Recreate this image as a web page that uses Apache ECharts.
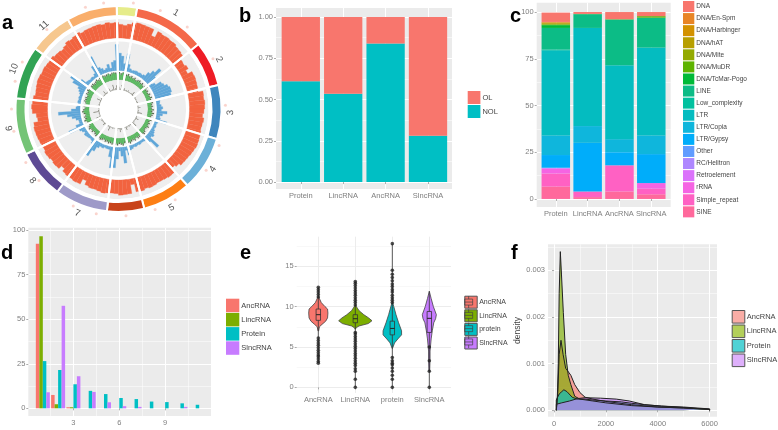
<!DOCTYPE html>
<html>
<head>
<meta charset="utf-8">
<style>html,body{margin:0;padding:0;background:#fff}#main{width:778px;height:430px}</style>
<script src="https://cdn.jsdelivr.net/npm/echarts@6/dist/echarts.min.js"></script>
</head>
<body>
<div id="main"></div>
<script>
// a: circular genome plot, degrees per sector clockwise from the yellow one
var sectorNames = ['', '1', '2', '3', '4', '5', '', '7', '8', '9', '10', '11', ''];
var sectorSizes = [11.5, 40.5, 25.5, 30.5, 31, 27.5, 21, 30, 27.5, 32, 30, 24.5, 28.5];
var sectorColors = ['#e6ec8a', '#f4694a', '#ee1c25', '#3f86bd', '#6cb0d8', '#fd7e14', '#c8431a', '#9e9ac8', '#5e4a94', '#74c476', '#31a354', '#f6c78e', '#f9ae6b'];
// ring values, one per 3 degrees clockwise from the top
var redRing = [
    .72, .68, .76, .86, .9, .88, .86, .85, .5, .84, .8, .82,
    .78, .8, .72, .7, .66, .45, .42, .5, .35, .6, .62, .6,
    .58, .55, .8, .78, .82, .8, .76, .7, .78, .74, .72, .75,
    .78, .8, .82, .78, .75, .72, .7, .68, .55, .45, .7, .72,
    .68, .66, .65, .7, .72, .68, .74, .72, .3, .76, .78, .8,
    .72, .7, .72, .75, .7, .66, .68, .62, .4, .7, .72, .68,
    .7, .66, .5, .7, .72, .68, .74, .76, .7, .72, .75, .78,
    .8, .82, .78, .55, .6, .8, .84, .8, .78, .7, .72, .75,
    .78, .76, .72, .74, .7, .68, .7, .62, .6, .55, .62, .72,
    .68, .74, .8, .72, .76, .78, .8, .82, .78, .84, .8, .82
];
var blueRing = [
    .6, .5, .25, .6, .25, .12, .08, .1, .12, .1, .12, .1,
    .14, .3, .45, .65, .35, .12, .2, .4, .45, .55, .6, .6,
    .55, .15, .12, .1, .15, .2, .15, .35, .2, .12, .15, .4,
    .1, .08, .1, .08, .12, .15, .2, .15, .55, .25, .1, .08,
    .08, .1, .08, .1, .08, .12, .15, .3, .12, .55, .3, .12,
    .4, .7, .72, .35, .1, .1, .08, .12, .1, .18, .35, .6,
    .18, .1, .08, .1, .12, .14, .08, .14, .2, .55, .25, .1,
    .1, .18, .3, .45, .75, .3, .14, .1, .08, .1, .08, .1,
    .08, .12, .18, .25, .5, .65, .3, .12, .1, .08, .1, .08,
    .14, .4, .7, .25, .18, .1, .14, .25, .1, .3, .35, .9
];
var greenRing = [
    .8, .6, .9, .7, .55, .7, .5, .6, .45, .55, .4, .5,
    .6, .45, .55, .4, .5, .6, .4, .45, .35, .5, .4, .55,
    .4, .35, .5, .4, .45, .35, .5, .4, .55, .45, .35, .4,
    .5, .35, .45, .4, .55, .4, .35, .5, .6, .45, .4, .5,
    .55, .4, .6, .45, .5, .7, .55, .6, .45, .75, .6, .5,
    .7, .6, .55, .65, .5, .6, .45, .55, .4, .5, .6, .45,
    .4, .55, .45, .35, .5, .4, .6, .45, .35, .5, .4, .65,
    .45, .55, .4, .5, .7, .55, .4, .5, .45, .4, .55, .45,
    .5, .4, .6, .5, .7, .55, .45, .6, .65, .5, .6, .75,
    .55, .7, .6, .8, .65, .7, .85, .6, .75, .9, .7, .85
];
// dark spikes that stick out of the green band
var greenTips = [
    1, .85, 1, .95, .8, .95, .7, .85, .65, .8, .6, .75,
    .85, .65, .8, .6, .75, .9, .6, .7, .55, .75, .6, .8,
    .6, .55, .75, .6, .7, .55, .8, .6, .85, .7, .55, .6,
    .75, .55, .7, .6, .8, .6, .55, .75, .9, .7, .6, .75,
    .8, .6, .85, .7, .75, .95, .8, .85, .7, 1, .85, .75,
    .95, .85, .8, .9, .75, .85, .7, .8, .6, .75, .85, .7,
    .6, .8, .7, .55, .75, .6, .85, .7, .55, .75, .6, .9,
    .7, .8, .6, .75, .95, .8, .6, .75, .7, .6, .8, .7,
    .75, .6, .85, .75, .95, .8, .7, .85, .9, .75, .85, 1,
    .8, .95, .85, 1, .9, .95, 1, .85, 1, 1, .95, 1
];
var blackRing = [
    .3, .15, .5, .2, .1, .25, .1, .15, .1, .2, .1, .12,
    .1, .15, .4, .12, .1, .08, .15, .1, .12, .08, .1, .15,
    .1, .08, .12, .1, .3, .1, .08, .12, .1, .45, .15, .1,
    .12, .08, .1, .35, .12, .08, .1, .15, .5, .1, .08, .12,
    .1, .15, .08, .12, .35, .1, .15, .08, .1, .2, .4, .12,
    .1, .3, .12, .08, .1, .15, .08, .1, .45, .12, .1, .08,
    .12, .1, .3, .08, .12, .1, .15, .08, .35, .12, .5, .1,
    .08, .12, .1, .6, .15, .08, .1, .12, .3, .1, .15, .08,
    .12, .1, .45, .08, .15, .1, .2, .08, .12, .1, .4, .15,
    .1, .2, .08, .35, .12, .1, .15, .55, .1, .2, .45, .15
];
var tickAngles = [8, 23, 40, 62, 88, 110, 125, 148, 160, 176, 192, 205, 228, 240, 258, 270, 285, 296, 318, 342, 352];

// b
var sampleNames = ['Protein', 'LincRNA', 'AncRNA', 'SlncRNA'];
var nolShare = [0.61, 0.535, 0.84, 0.28];
var olShare = [0.39, 0.465, 0.16, 0.72];

// c: share of each repeat class, in sampleNames order
var repeatNames = ['DNA', 'DNA/En-Spm', 'DNA/Harbinger', 'DNA/hAT', 'DNA/Mite', 'DNA/MuDR', 'DNA/TcMar-Pogo', 'LINE', 'Low_complexity', 'LTR', 'LTR/Copia', 'LTR/Gypsy', 'Other', 'RC/Helitron', 'Retroelement', 'rRNA', 'Simple_repeat', 'SINE'];
var repeatColors = ['#F8766D', '#E88526', '#D39200', '#B79F00', '#93AA00', '#5EB300', '#00BA38', '#0cbc86', '#00C19F', '#04bcc0', '#0fb6dc', '#00ADFA', '#619CFF', '#AE87FF', '#DB72FB', '#F564E3', '#FF61C3', '#FF699C'];
var repeatDNA = [5, 1, 3.8, 2.2];
var repeatEnSpm = [0.2, 0, 0, 0];
var repeatHarbinger = [0.3, 0, 0, 0];
var repeatHat = [0.5, 0, 0, 0];
var repeatMite = [0.3, 0, 0.1, 0];
var repeatMuDR = [0.4, 0, 0.1, 0.8];
var repeatTcMar = [1.5, 0.2, 0, 0];
var repeatLine = [11.5, 7.3, 24.5, 16];
var repeatLow = [0.5, 0, 0, 0];
var repeatLtr = [45.5, 52.5, 39.5, 47];
var repeatCopia = [10.5, 9, 7, 10];
var repeatGypsy = [6.8, 26, 7, 15.5];
var repeatOther = [0, 0, 0, 0];
var repeatHelitron = [0.2, 0, 0, 0];
var repeatRetro = [0.4, 0, 0, 0];
var repeatRrna = [2.5, 0, 0, 3];
var repeatSimple = [7, 3, 14, 3];
var repeatSine = [6.6, 1, 4, 2.5];
var repeatValues = [repeatDNA, repeatEnSpm, repeatHarbinger, repeatHat, repeatMite, repeatMuDR, repeatTcMar, repeatLine, repeatLow, repeatLtr, repeatCopia, repeatGypsy, repeatOther, repeatHelitron, repeatRetro, repeatRrna, repeatSimple, repeatSine];

// d: exon count, x = 1..11
var classNames = ['AncRNA', 'LincRNA', 'Protein', 'SlncRNA'];
var classColors = ['#f8766d', '#7cae00', '#00bfc4', '#c77cff'];
var exonAnc = [92.3, 7.5, 0.6, 0, 0, 0, 0, 0, 0, 0, 0];
var exonLinc = [96.5, 2.3, 0.6, 0, 0, 0, 0, 0, 0, 0, 0];
var exonProtein = [26.5, 21.5, 13.5, 9.8, 8, 5.8, 5.2, 3.8, 3.5, 2.8, 2];
var exonSlnc = [9, 57.5, 18, 9.2, 3.4, 1.2, 0.8, 0, 0, 0.8, 0];

// e: violin outlines as [value, half width]
var violinNames = ['AncRNA', 'LincRNA', 'protein', 'SlncRNA'];
var violinAnc = [[7.0, .01], [7.5, .03], [7.8, .1], [8.2, .2], [8.6, .25], [9.2, .26], [9.7, .25], [10, .18], [10.5, .08], [11, .03], [11.3, 0]];
var violinLinc = [[7.2, 0], [7.4, .03], [7.6, .1], [7.9, .35], [8.25, .45], [8.6, .36], [9, .23], [9.5, .1], [10.2, 0]];
var violinProtein = [[4.8, 0], [5, .02], [5.5, .06], [6, .15], [6.5, .25], [7, .25], [8, .17], [9, .1], [10, .04], [10.5, .01]];
var violinSlnc = [[2, .01], [3.5, .02], [4.5, .02], [5, .03], [6, .05], [7, .08], [8, .12], [8.5, .17], [9, .19], [10, .11], [11, .05], [11.9, 0]];
var violinShapes = [violinAnc, violinLinc, violinProtein, violinSlnc];
var boxQ1 = [8.3, 8, 6.5, 6.8];
var boxMedian = [9, 8.5, 7.3, 8.55];
var boxQ3 = [9.7, 9, 8.2, 9.4];
var whiskerLow = [3, 0, 0, 0];
var whiskerHigh = [12.4, 13.1, 17.8, 11.9];
var outliersAnc = [3, 3.2, 3.5, 3.8, 4, 4.3, 4.6, 4.9, 5.2, 5.5, 5.8, 6.1, 11.2, 11.5, 11.8, 12.1, 12.4];
var outliersLinc = [0, 1, 2, 2.3, 2.7, 3, 3.3, 3.6, 3.9, 4.2, 4.5, 4.8, 5.1, 5.4, 5.7, 6, 6.3, 6.6, 6.8, 10.2, 10.5, 10.8, 11.1, 11.4, 11.7, 12, 12.3, 12.6, 12.9, 13.1];
var outliersProtein = [0, 1, 1.5, 2, 2.4, 2.8, 3, 3.3, 3.7, 10.5, 10.8, 11.1, 11.4, 11.8, 12.1, 12.5, 12.8, 13.2, 13.6, 14, 14.5, 17.8];
var outliersSlnc = [0, 2, 3.3, 5];
var outlierLists = [outliersAnc, outliersLinc, outliersProtein, outliersSlnc];

// f: density curves as [length, density]
var densityAnc = [[90, 0], [150, .0004], [200, .0012], [270, .0015], [350, .0012], [450, .0009], [560, .00082], [650, .00075], [800, .00055], [1000, .00038], [1200, .00028], [1500, .00024], [2000, .00019], [3000, .00012], [4000, .00007], [5000, .00005], [6000, .00002], [6000, 0]];
var densityLinc = [[90, 0], [130, .0003], [165, .001], [200, .0025], [244, .0034], [290, .0029], [360, .0021], [450, .0012], [550, .00075], [650, .00055], [800, .0003], [1000, .00024], [1500, .0002], [2000, .00016], [3000, .0001], [4000, .00007], [5000, .00005], [6000, .00002], [6000, 0]];
var densityProtein = [[90, 0], [90, .00022], [200, .00035], [300, .0004], [380, .00044], [500, .0004], [700, .00028], [900, .00024], [1200, .00024], [1500, .00022], [2000, .0002], [2600, .00018], [3000, .00015], [3500, .00012], [4150, .00009], [5000, .00006], [6000, .00002], [6000, 0]];
var densitySlnc = [[90, 0], [90, .00013], [300, .00016], [600, .0002], [900, .00025], [1200, .00027], [1800, .00026], [2400, .00024], [2900, .0002], [3500, .00012], [4150, .00009], [5000, .00007], [6000, .00003], [6000, 0]];
var densityCurves = [densityAnc, densityLinc, densityProtein, densitySlnc];

var FONT = '"Liberation Sans", Arial, sans-serif';
var AXIS_TEXT = '#7f7f7f';
var center = [118.5, 109];

var xAxes = [];
var yAxes = [];

// two axes per grid: the first carries labels and major lines, the second the thin minor lines
function addAxes(list, grid, range, ticks, minors, format, lineColor, minorColor) {
    list.push({
        type: 'value', gridIndex: grid, min: range[0], max: range[1],
        axisLine: {show: false},
        axisTick: {customValues: ticks, length: 2, lineStyle: {color: '#888', width: 0.7}},
        axisLabel: {customValues: ticks, formatter: format, color: AXIS_TEXT, fontSize: 7.5, fontFamily: FONT, margin: 3, showMinLabel: true, showMaxLabel: true},
        splitLine: {show: true, lineStyle: {color: lineColor, width: 1}}
    });
    list.push({
        type: 'value', gridIndex: grid, min: range[0], max: range[1],
        axisLine: {show: false},
        axisTick: {show: false, customValues: minors},
        axisLabel: {show: false},
        splitLine: {show: minors.length > 0, lineStyle: {color: minorColor, width: 0.5}}
    });
}

function catLabel(names) {
    return function (v) {
        return names[Math.round(v) - 1];
    };
}

var yRangeB = [-0.042, 1.0545];
var yRangeC = [-4.3, 105];

var grids = [
    {left: 276, top: 8, width: 176, height: 181, show: true, backgroundColor: '#ebebeb', borderWidth: 0},
    {left: 536.7, top: 2.7, width: 134, height: 204.3, show: true, backgroundColor: '#ebebeb', borderWidth: 0},
    {left: 28.3, top: 227.7, width: 182.7, height: 188.3, show: true, backgroundColor: '#ebebeb', borderWidth: 0},
    {left: 296.7, top: 236.7, width: 154.3, height: 156.3, show: true, backgroundColor: '#fff', borderWidth: 0},
    {left: 548, top: 244.3, width: 169, height: 172.4, show: true, backgroundColor: '#ebebeb', borderWidth: 0},
    // narrower grids for the stacked bars of b and c, ggplot pads discrete axes by less than a band
    {left: 279.6, top: 8, width: 169.6, height: 181},
    {left: 539.9, top: 2.7, width: 127.3, height: 204.3}
];

addAxes(xAxes, 0, [0.415, 4.566], [1, 2, 3, 4], [], catLabel(sampleNames), '#fff', '#fff');
addAxes(yAxes, 0, yRangeB, [0, 0.25, 0.5, 0.75, 1], [0.125, 0.375, 0.625, 0.875], function (v) { return v.toFixed(2); }, '#fff', '#fff');
addAxes(xAxes, 1, [0.4, 4.61], [1, 2, 3, 4], [], catLabel(sampleNames), '#fff', '#fff');
addAxes(yAxes, 1, yRangeC, [0, 25, 50, 75, 100], [12.5, 37.5, 62.5, 87.5], String, '#fff', '#fff');
addAxes(xAxes, 2, [0.05, 12], [3, 6, 9], [1.5, 4.5, 7.5, 10.5], String, '#fff', '#fff');
addAxes(yAxes, 2, [-4.3, 101.3], [0, 25, 50, 75, 100], [12.5, 37.5, 62.5, 87.5], String, '#fff', '#fff');
addAxes(xAxes, 3, [0.416, 4.586], [1, 2, 3, 4], [], catLabel(violinNames), '#ececec', '#f0f0f0');
addAxes(yAxes, 3, [-0.7, 18.66], [0, 5, 10, 15], [2.5, 7.5, 12.5, 17.5], String, '#ececec', '#f0f0f0');
addAxes(xAxes, 4, [-231, 6286], [0, 2000, 4000, 6000], [1000, 3000, 5000], String, '#fff', '#fff');
addAxes(yAxes, 4, [-0.000137, 0.003557], [0, 0.001, 0.002, 0.003], [0.0005, 0.0015, 0.0025, 0.0035], function (v) { return v.toFixed(3); }, '#fff', '#fff');
yAxes[8].name = 'density';
yAxes[8].nameLocation = 'middle';
yAxes[8].nameGap = 22;
yAxes[8].nameTextStyle = {color: '#444', fontSize: 8.5, fontFamily: FONT};

// hidden axes of the bar grids
xAxes.push({type: 'category', gridIndex: 5, data: sampleNames, show: false});
yAxes.push({type: 'value', gridIndex: 5, min: yRangeB[0], max: yRangeB[1], show: false, splitLine: {show: false}});
xAxes.push({type: 'category', gridIndex: 6, data: sampleNames, show: false});
yAxes.push({type: 'value', gridIndex: 6, min: yRangeC[0], max: yRangeC[1], show: false, splitLine: {show: false}});

var series = [];

// --- a ---
function sectorData(colorOf) {
    return sectorSizes.map(function (s, i) {
        return {value: s, name: sectorNames[i] || ' ', itemStyle: {color: colorOf(i)}};
    });
}
function addRingPie(inner, outer, colorOf, z, border) {
    series.push({
        type: 'pie', center: center, radius: [inner, outer], startAngle: 91, clockwise: true,
        silent: true, z: z, label: {show: false}, labelLine: {show: false},
        itemStyle: {borderColor: '#fff', borderWidth: border},
        data: sectorData(colorOf)
    });
}
function gray() { return '#eeeeee'; }
addRingPie(93, 103, function (i) { return sectorColors[i]; }, 3, 2);
addRingPie(71, 90, gray, 1, 0);
addRingPie(38.5, 67.5, gray, 1, 0);
addRingPie(19, 36.5, gray, 1, 0);
// white radial cuts on top of the inner rings
addRingPie(18, 91, function () { return 'transparent'; }, 3, 2);

// sector labels outside the coloured ring
series.push({
    type: 'pie', center: center, radius: [105, 113], startAngle: 91, silent: true, z: 4,
    itemStyle: {color: 'transparent'},
    labelLine: {show: false},
    label: {show: true, position: 'inside', rotate: 'tangential', formatter: '{b}', color: '#555', fontSize: 9.5, fontFamily: FONT},
    data: sectorSizes.map(function (s, i) { return {value: s, name: sectorNames[i] || ' '}; })
});

var ringPolar = [];
var ringAngle = [];
var ringRadius = [];
function addRing(inner, outer, values, color, gap) {
    var k = ringPolar.length;
    ringPolar.push({center: center, radius: [inner, outer]});
    ringAngle.push({type: 'category', polarIndex: k, startAngle: 90, data: values.map(function (v, i) { return i; }), show: false, boundaryGap: true});
    ringRadius.push({type: 'value', polarIndex: k, min: 0, max: 1, show: false});
    series.push({type: 'bar', coordinateSystem: 'polar', polarIndex: k, data: values, barCategoryGap: gap, silent: true, z: 2, itemStyle: {color: color, borderColor: color, borderWidth: gap ? 0 : 0.3}});
}
addRing(71, 90, redRing, '#f2633f', 0);
addRing(38.5, 67.5, blueRing, '#5fa6d8', 0);
addRing(29.5, 37, greenTips, '#5d6b52', '35%');
addRing(29.5, 37, greenRing, '#5cbb62', 0);
addRing(19, 29.5, blackRing, '#6e6e62', '45%');

// pale ticks around the outer ring
ringPolar.push({center: center, radius: [0, 112]});
ringAngle.push({type: 'value', polarIndex: 5, startAngle: 90, min: 0, max: 360, show: false});
ringRadius.push({type: 'value', polarIndex: 5, min: 0, max: 112, show: false});
series.push({
    type: 'scatter', coordinateSystem: 'polar', polarIndex: 5, symbolSize: 3, silent: true, z: 1,
    itemStyle: {color: '#f9c9c0'},
    data: tickAngles.map(function (a) { return [107, a]; })
});

// --- b ---
function stackedBars(name, values, color, axis, stack, width) {
    series.push({
        type: 'bar', name: name, xAxisIndex: axis, yAxisIndex: axis, stack: stack, barWidth: width,
        itemStyle: {color: color},
        data: values
    });
}
stackedBars('NOL', nolShare, '#00bfc4', 10, 'b', 38.3);
stackedBars('OL', olShare, '#f8766d', 10, 'b', 38.3);

// --- c --- bottom of the stack is the end of the legend
for (var r = repeatNames.length - 1; r >= 0; r--) {
    stackedBars(repeatNames[r], repeatValues[r], repeatColors[r], 11, 'c', 28.5);
}

// --- d ---
[exonAnc, exonLinc, exonProtein, exonSlnc].forEach(function (values, i) {
    series.push({
        type: 'bar', name: classNames[i], xAxisIndex: 4, yAxisIndex: 4, barWidth: 3.5, barGap: 0,
        itemStyle: {color: classColors[i]},
        data: values.map(function (v, k) { return [k + 1, v]; })
    });
});

// --- e ---
violinNames.forEach(function (name, i) {
    series.push({
        type: 'custom', name: name, xAxisIndex: 6, yAxisIndex: 6, clip: false, z: 3,
        data: [[i + 1, boxMedian[i]]],
        encode: {x: 0, y: 1},
        renderItem: function (params, api) {
            var x = api.value(0);
            var shape = violinShapes[i];
            var pts = [];
            shape.forEach(function (p) { pts.push(api.coord([x + p[1], p[0]])); });
            shape.slice().reverse().forEach(function (p) { pts.push(api.coord([x - p[1], p[0]])); });
            var lo = api.coord([x, whiskerLow[i]]);
            var hi = api.coord([x, whiskerHigh[i]]);
            var b1 = api.coord([x - 0.06, boxQ3[i]]);
            var b2 = api.coord([x + 0.06, boxQ1[i]]);
            var m1 = api.coord([x - 0.06, boxMedian[i]]);
            var m2 = api.coord([x + 0.06, boxMedian[i]]);
            var stroke = {stroke: '#333', lineWidth: 0.8, fill: null};
            return {
                type: 'group',
                children: [
                    {type: 'polygon', shape: {points: pts}, style: {fill: classColors[i], stroke: '#444', lineWidth: 0.8}},
                    {type: 'line', shape: {x1: lo[0], y1: lo[1], x2: hi[0], y2: hi[1]}, style: stroke},
                    {type: 'rect', shape: {x: b1[0], y: b1[1], width: b2[0] - b1[0], height: b2[1] - b1[1]}, style: {fill: classColors[i], stroke: '#333', lineWidth: 0.8}},
                    {type: 'line', shape: {x1: m1[0], y1: m1[1], x2: m2[0], y2: m2[1]}, style: {stroke: '#222', lineWidth: 1}}
                ]
            };
        }
    });
    series.push({
        type: 'scatter', name: name, xAxisIndex: 6, yAxisIndex: 6, symbolSize: 3.6, z: 4, silent: true,
        itemStyle: {color: '#222'},
        data: outlierLists[i].map(function (v) { return [i + 1, v]; })
    });
});

// --- f ---
densityCurves.forEach(function (curve, i) {
    series.push({
        type: 'line', name: classNames[i], xAxisIndex: 8, yAxisIndex: 8, showSymbol: false, symbol: 'none',
        lineStyle: {color: '#222', width: 1},
        areaStyle: {color: classColors[i], opacity: 0.65, origin: 0},
        data: curve
    });
});

function legendBox(left, top, w, h, gap, names, colors, font, border) {
    return {
        orient: 'vertical', left: left, top: top, padding: 0, itemWidth: w, itemHeight: h, itemGap: gap,
        icon: 'rect', selectedMode: false,
        textStyle: {color: '#444', fontSize: font, fontFamily: FONT, padding: [0, 0, 0, -3]},
        data: names.map(function (n, i) {
            return {name: n, itemStyle: {color: colors[i], borderColor: border || 'transparent', borderWidth: border ? 1 : 0, opacity: 1}};
        })
    };
}

// box-and-whisker glyphs laid over the swatches of legend e
function legendGlyphs(left, top, w, h, gap, names, font) {
    var box = legendBox(left, top, w, h, gap, names, names.map(function () { return 'transparent'; }), font, '#444');
    box.icon = 'path://M6 0V3M2 3H10V9H2ZM2 6H10M6 9V12';
    box.textStyle.color = 'transparent';
    box.data.forEach(function (d) { d.itemStyle.borderWidth = 0.7; });
    return box;
}

function letter(text, left, top) {
    return {text: text, left: left, top: top, padding: 0, textStyle: {fontSize: 20, fontWeight: 'bold', color: '#000', fontFamily: FONT}};
}

var chart = echarts.init(document.getElementById('main'));
var option = {
    animation: false,
    backgroundColor: '#fff',
    title: [letter('a', 2, 13), letter('b', 239, 6), letter('c', 510, 6), letter('d', 1, 243), letter('e', 240, 243), letter('f', 511, 243)],
    grid: grids,
    xAxis: xAxes,
    yAxis: yAxes,
    polar: ringPolar,
    angleAxis: ringAngle,
    radiusAxis: ringRadius,
    legend: [
        legendBox(467.7, 91, 12.7, 13, 1, ['OL', 'NOL'], ['#f8766d', '#00bfc4'], 7.5),
        legendBox(683, 1, 11.3, 11, 1.08, repeatNames, repeatColors, 6.5),
        legendBox(226, 298.7, 13.3, 13.5, 0.7, classNames, classColors, 7.5),
        legendBox(464.3, 295.7, 12.4, 12, 0.6, violinNames, classColors, 7, '#555'),
        legendGlyphs(464.3, 295.7, 12.4, 12, 0.6, violinNames, 7),
        legendBox(731.7, 310, 12.6, 12.6, 0.9, classNames, ['#f9ada6', '#b3cf5a', '#50d2d5', '#deb0fb'], 7.5, '#555')
    ],
    series: series
};
chart.setOption(option);
window.onresize = function () {
    chart && chart.resize();
};
</script>
</body>
</html>
